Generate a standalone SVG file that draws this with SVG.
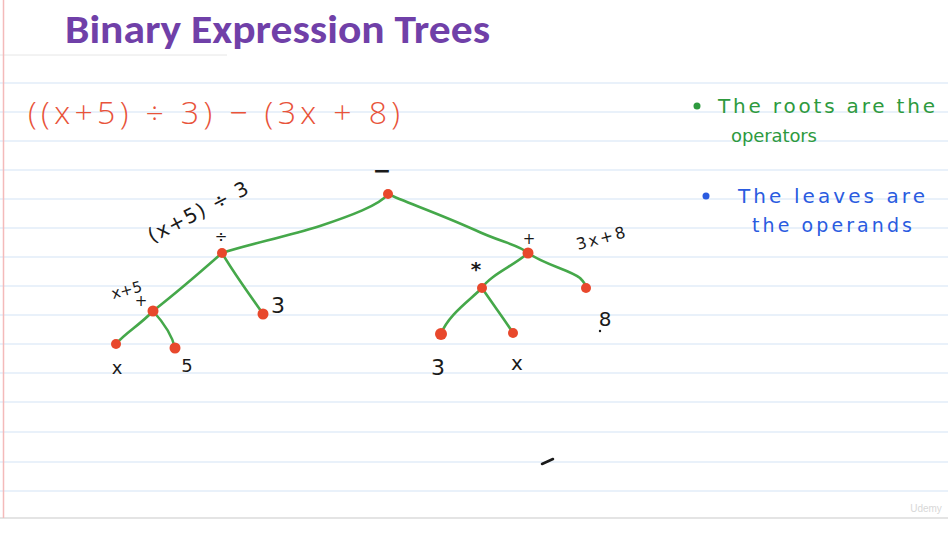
<svg xmlns="http://www.w3.org/2000/svg" width="948" height="534" viewBox="0 0 948 534">
<defs>
<style>
.rule{stroke:#E2ECF8;stroke-width:1.5}
.edge{fill:none;stroke:#45A84A;stroke-width:2.6;stroke-linecap:round;stroke-linejoin:round}
.dot{fill:#E8482C}
.hw{font-family:"DejaVu Sans","Liberation Sans",sans-serif;fill:#1a1a1a}
.red{font-family:"Open Sans","DejaVu Sans",sans-serif;font-weight:300;fill:#E8533A}
.grn{font-family:"DejaVu Sans","Liberation Sans",sans-serif;fill:#2E9A3E}
.blu{font-family:"DejaVu Sans","Liberation Sans",sans-serif;fill:#2A5BE0}
</style>
</defs>
<rect x="0" y="0" width="948" height="534" fill="#FFFFFF"/>
<g id="paper">
<line x1="0" y1="55" x2="227" y2="55" stroke="#E6E6E6" stroke-width="1"/>
<line class="rule" x1="0" y1="83" x2="948" y2="83"/>
<line class="rule" x1="0" y1="112" x2="948" y2="112"/>
<line class="rule" x1="0" y1="141" x2="948" y2="141"/>
<line class="rule" x1="0" y1="170" x2="948" y2="170"/>
<line class="rule" x1="0" y1="199" x2="948" y2="199"/>
<line class="rule" x1="0" y1="228" x2="948" y2="228"/>
<line class="rule" x1="0" y1="257" x2="948" y2="257"/>
<line class="rule" x1="0" y1="286" x2="948" y2="286"/>
<line class="rule" x1="0" y1="315" x2="948" y2="315"/>
<line class="rule" x1="0" y1="344" x2="948" y2="344"/>
<line class="rule" x1="0" y1="373" x2="948" y2="373"/>
<line class="rule" x1="0" y1="402" x2="948" y2="402"/>
<line class="rule" x1="0" y1="432" x2="948" y2="432"/>
<line class="rule" x1="0" y1="462" x2="948" y2="462"/>
<line class="rule" x1="0" y1="491" x2="948" y2="491"/>
<line x1="0" y1="518" x2="948" y2="518" stroke="#E4E4E4" stroke-width="2"/>
<line x1="3.5" y1="0" x2="3.5" y2="518" stroke="#F4BABA" stroke-width="1.5"/>
</g>
<text x="65" y="43" font-family="Carlito,'Liberation Sans',sans-serif" font-weight="bold" font-size="41" fill="#7040A8" textLength="425" lengthAdjust="spacingAndGlyphs">Binary Expression Trees</text>
<text class="red" x="28" y="124" font-size="32" textLength="372" lengthAdjust="spacing">((x+5) ÷ 3) − (3x + 8)</text>
<g id="notes">
<circle cx="697" cy="106" r="3.5" fill="#2E9A3E"/>
<text class="grn" x="718" y="113" font-size="20" textLength="217" lengthAdjust="spacing">The roots are the</text>
<text class="grn" x="731" y="142" font-size="18" textLength="86" lengthAdjust="spacing">operators</text>
<circle cx="706" cy="196" r="3.5" fill="#2A5BE0"/>
<text class="blu" x="738" y="203" font-size="20" textLength="187" lengthAdjust="spacing">The leaves are</text>
<text class="blu" x="752" y="232" font-size="19" textLength="160" lengthAdjust="spacing">the operands</text>
</g>
<g id="connectors">
<path class="edge" d="M388,194 C380,205 350,216 320,226 C285,237 250,244 222,253"/>
<path class="edge" d="M388,194 C405,202 440,214 475,230 C500,242 520,245 528,253"/>
<path class="edge" d="M222,253 C205,268 180,290 153,311"/>
<path class="edge" d="M222,253 C235,275 250,295 263,314"/>
<path class="edge" d="M153,311 C140,325 125,333 116,344"/>
<path class="edge" d="M153,311 C163,322 172,335 175,348"/>
<path class="edge" d="M528,253 C515,265 490,275 482,288"/>
<path class="edge" d="M528,253 C545,265 570,270 580,278 C584,282 586,286 586,288"/>
<path class="edge" d="M482,288 C470,300 448,315 441,334"/>
<path class="edge" d="M482,288 C492,303 505,320 513,333"/>
</g>
<g id="n-root"><circle class="dot" cx="388" cy="194" r="5"/><text class="hw" x="382" y="178" font-size="22" text-anchor="middle" font-weight="bold">−</text></g>
<g id="n-div"><circle class="dot" cx="222" cy="253" r="5"/><text class="hw" x="221" y="242" font-size="15" text-anchor="middle">÷</text>
<text class="hw" x="152" y="243" font-size="20" transform="rotate(-27 152 243)" textLength="110" lengthAdjust="spacing">(x+5) ÷ 3</text></g>
<g id="n-plus1"><circle class="dot" cx="153" cy="311" r="5.5"/><text class="hw" x="141" y="306" font-size="15" text-anchor="middle">+</text>
<text class="hw" x="113" y="299" font-size="15" transform="rotate(-15 113 299)">x+5</text></g>
<g id="n-x1"><circle class="dot" cx="116" cy="344" r="5"/><text class="hw" x="117" y="374" font-size="18" text-anchor="middle">x</text></g>
<g id="n-5"><circle class="dot" cx="175" cy="348" r="5.5"/><text class="hw" x="187" y="372" font-size="18" text-anchor="middle">5</text></g>
<g id="n-3a"><circle class="dot" cx="263" cy="314" r="5.5"/><text class="hw" x="278" y="313" font-size="22" text-anchor="middle">3</text></g>
<g id="n-plus2"><circle class="dot" cx="528" cy="253" r="5.5"/><text class="hw" x="529" y="244" font-size="15" text-anchor="middle">+</text>
<text class="hw" x="578" y="250" font-size="16" transform="rotate(-15 578 250)" textLength="50" lengthAdjust="spacing">3x+8</text></g>
<g id="n-mul"><circle class="dot" cx="482" cy="288" r="5"/><text class="hw" x="476" y="276" font-size="20" text-anchor="middle" font-weight="bold">*</text></g>
<g id="n-3b"><circle class="dot" cx="441" cy="334" r="6"/><text class="hw" x="438" y="375" font-size="22" text-anchor="middle">3</text></g>
<g id="n-x2"><circle class="dot" cx="513" cy="333" r="5"/><text class="hw" x="517" y="370" font-size="20" text-anchor="middle">x</text></g>
<g id="n-8"><circle class="dot" cx="586" cy="288" r="5"/><text class="hw" x="605" y="326" font-size="20" text-anchor="middle">8</text><circle cx="600" cy="331" r="1.2" fill="#1a1a1a"/></g>
<line x1="542" y1="464" x2="553" y2="459" stroke="#1a1a1a" stroke-width="2.5" stroke-linecap="round"/>
<text x="926" y="512" font-family="'Liberation Sans',sans-serif" font-size="10" fill="#D8D8D8" text-anchor="middle">Udemy</text>
</svg>
